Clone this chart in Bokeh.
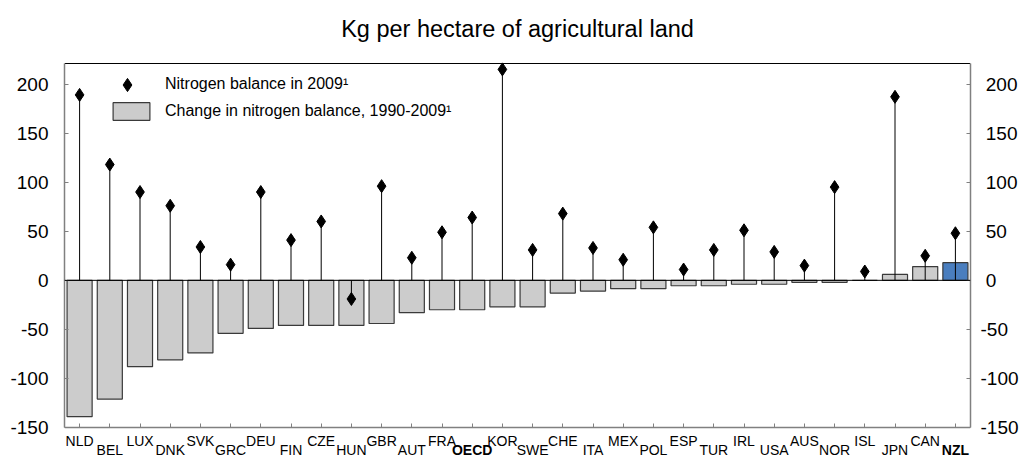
from bokeh.plotting import figure
from bokeh.models import (FactorRange, Range1d, LinearAxis, CategoricalAxis, FixedTicker,
                          ColumnDataSource, Span, Legend, LegendItem)
from bokeh.core.properties import value
from bokeh.embed import file_html
from bokeh.resources import INLINE

# ---- data ----
countries = ["NLD", "BEL", "LUX", "DNK", "SVK", "GRC", "DEU", "FIN", "CZE", "HUN",
             "GBR", "AUT", "FRA", "OECD", "KOR", "SWE", "CHE", "ITA", "MEX", "POL",
             "ESP", "TUR", "IRL", "USA", "AUS", "NOR", "ISL", "JPN", "CAN", "NZL"]
change_1990_2009 = [-139, -121, -88, -81, -74, -54, -49, -46, -46, -46,
                    -44, -33, -30, -30, -27, -27, -13, -11, -8.5, -8.5,
                    -5.5, -5.5, -4, -4, -2, -2, 0, 6, 14, 18]
balance_2009 = [189, 118, 90, 76, 34, 16, 90, 41, 60, -19,
                96, 23, 49, 64, 215, 31, 68, 33, 21, 54,
                11, 31, 51, 29, 15, 95, 9, 187, 25, 48]
highlight = "NZL"
bold_labels = ["OECD", "NZL"]
y_ticks = [-150, -100, -50, 0, 50, 100, 150, 200]
y_min, y_max = -150, 221
title_text = "Kg per hectare of agricultural land"
legend_points = "Nitrogen balance in 2009\u00b9"
legend_bars = "Change in nitrogen balance, 1990-2009\u00b9"

FONT = "Liberation Sans"
GRAY = "#cccccc"
BLUE = "#4a7ebf"
AXIS = "#808080"

# ---- layout constants (canvas pixels) ----
W, H = 1023, 459
TOP, AXIS_BOTTOM = 63, 427                      # plot box top (y_max) / bottom (y_min)
ppu = (AXIS_BOTTOM - TOP) / (y_max - y_min)     # pixels per data unit
frame_top_val = y_max + TOP / ppu               # frame covers the whole canvas height
frame_bottom_val = y_min - (H - AXIS_BOTTOM) / ppu
TITLE_Y = 28.5                                  # anchor of the title text
row_anchor = [440.3, 449.8]                     # anchors of the two staggered label rows

src = ColumnDataSource(dict(
    country=countries,
    change=change_1990_2009,
    balance=balance_2009,
    color=[BLUE if c == highlight else GRAY for c in countries],
))

xr = FactorRange(factors=countries, range_padding=0)
p = figure(x_range=xr, y_range=Range1d(frame_bottom_val, frame_top_val),
           width=W, height=H, output_backend="svg", toolbar_location=None,
           x_axis_location=None, y_axis_location=None,
           min_border_left=64, min_border_right=53, min_border_top=0, min_border_bottom=0)
p.outline_line_color = None
p.xgrid.visible = False
p.ygrid.visible = False

bars = p.vbar(x="country", top="change", bottom=0, width=0.83, source=src,
              fill_color="color", line_color="#3a3a3a", line_width=1.2)
p.add_layout(Span(location=0, dimension="width", line_color="black", line_width=1))
p.segment(x0="country", y0=0, x1="country", y1="balance", source=src,
          line_color="black", line_width=1)
dia = p.scatter(x="country", y="balance", marker="diamond", size=13, source=src,
                fill_color="black", line_color="black")

# bottom axis sitting at y_min, ticks pointing up
xa = CategoricalAxis(fixed_location=y_min)
xa.major_label_text_color = None
xa.major_label_text_font_size = "1px"
xa.major_label_standoff = 0
xa.major_tick_in = 4
xa.major_tick_out = 0
xa.axis_line_color = AXIS
xa.axis_line_width = 1.5
xa.major_tick_line_color = AXIS
p.add_layout(xa, "below")

# top border line at y_max
xt = CategoricalAxis(fixed_location=y_max)
xt.major_label_text_color = None
xt.major_label_text_font_size = "1px"
xt.major_label_standoff = 0
xt.major_tick_in = 0
xt.major_tick_out = 0
xt.major_tick_line_color = None
xt.axis_line_color = "black"
xt.axis_line_width = 1
p.add_layout(xt, "above")

left = LinearAxis(ticker=FixedTicker(ticks=y_ticks), bounds=(y_min, y_max))
left.major_label_overrides = {t: str(t) for t in y_ticks}
right = LinearAxis(ticker=FixedTicker(ticks=y_ticks), bounds=(y_min, y_max))
right.major_label_overrides = {t: (str(t) if t < 0 else "\u00a0" + str(t)) for t in y_ticks}
for ax, so in ((left, 16), (right, 10)):
    ax.major_tick_in = 4
    ax.major_tick_out = 0
    ax.minor_tick_in = 0
    ax.minor_tick_out = 0
    ax.axis_line_color = AXIS
    ax.axis_line_width = 1.5
    ax.major_tick_line_color = AXIS
    ax.major_label_standoff = so
    ax.major_label_text_font = FONT
    ax.major_label_text_font_size = "19px"
    ax.major_label_text_color = "black"
p.add_layout(left, "left")
p.add_layout(right, "right")

common = dict(padding=0, margin=0, spacing=0, border_line_color=None,
              background_fill_alpha=0, label_text_font=FONT, label_text_font_size="16px",
              label_text_color="black")
shift = H - AXIS_BOTTOM
leg1 = Legend(items=[LegendItem(label=legend_points, renderers=[dia])],
              location=(45, 326.5 + shift),
              glyph_width=36, glyph_height=33, label_standoff=20, **common)
leg2 = Legend(items=[LegendItem(label=legend_bars, renderers=[bars])],
              location=(44, 305 + shift),
              glyph_width=46, glyph_height=22, label_height=22, label_standoff=11, **common)
p.add_layout(leg1)
p.add_layout(leg2)

# title, centred over the plot box
title_src = ColumnDataSource(dict(x=[len(countries) / 2],
                                  y=[y_max + (TOP - TITLE_Y) / ppu],
                                  t=[title_text]))
p.text(x="x", y="y", text="t", source=title_src, text_align="center",
       text_baseline="alphabetic", text_font=value(FONT), text_font_size="23.5px",
       text_color="black")

# staggered category labels under the axis
lab_src = ColumnDataSource(dict(
    country=countries,
    y=[y_min - (row_anchor[i % 2] - AXIS_BOTTOM) / ppu for i in range(len(countries))],
    style=["bold" if c in bold_labels else "normal" for c in countries],
))
p.text(x="country", y="y", text="country", source=lab_src,
       text_align="center", text_baseline="alphabetic",
       text_font=value(FONT), text_font_size="14px", text_font_style="style",
       text_color="black")

open("out.html", "w").write(file_html(p, INLINE))
